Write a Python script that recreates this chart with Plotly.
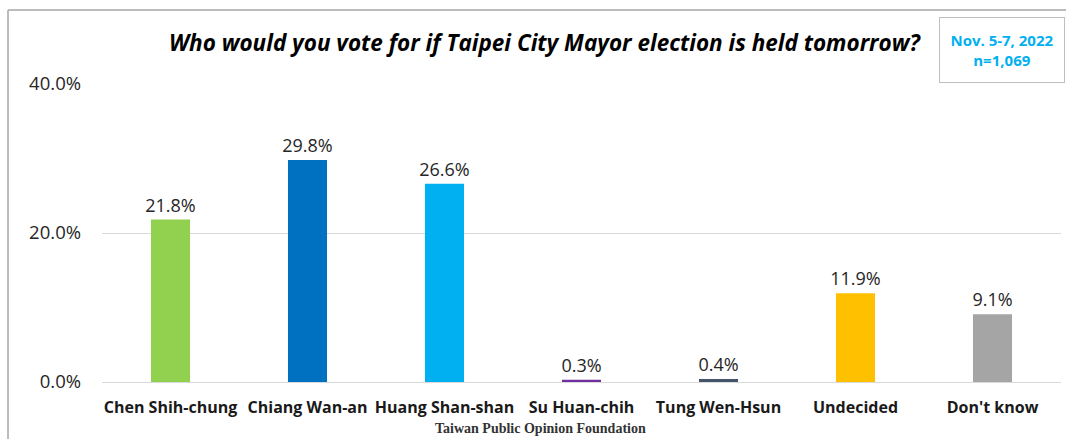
import plotly.graph_objects as go

# Data
candidates = ["Chen Shih-chung", "Chiang Wan-an", "Huang Shan-shan", "Su Huan-chih",
              "Tung Wen-Hsun", "Undecided", "Don't know"]
shares = [21.8, 29.8, 26.6, 0.3, 0.4, 11.9, 9.1]
colors = ["#92D050", "#0070C0", "#00B0F0", "#7030A0", "#44546A", "#FFC000", "#A5A5A5"]
y_ticks = [0, 20, 40]
y_tick_labels = ["0.0%", "20.0%", "40.0%"]

fig = go.Figure(
    data=[go.Bar(
        x=candidates,
        y=shares,
        marker=dict(color=colors, line=dict(width=0)),
        text=[f"{v:.1f}%" for v in shares],
        textposition="outside",
        constraintext="none",
        textfont=dict(size=18, color="#262626", family="Open Sans"),
        cliponaxis=False,
    )]
)

fig.update_layout(
    width=1066,
    height=439,
    margin=dict(l=102, r=5, t=84, b=57),
    plot_bgcolor="white",
    paper_bgcolor="white",
    bargap=0.715,
    showlegend=False,
    xaxis=dict(
        showgrid=False,
        tickfont=dict(size=16, color="#1a1a1a", family="Open Sans"),
        tickvals=candidates,
        ticktext=[f"<b>{c}</b>" for c in candidates],
        ticks="",
        showline=False,
        ticklabelstandoff=14,
    ),
    yaxis=dict(
        range=[0, 40],
        tickvals=y_ticks,
        ticktext=y_tick_labels,
        showgrid=True,
        gridcolor="#D9D9D9",
        gridwidth=1,
        zeroline=True,
        zerolinecolor="#D9D9D9",
        zerolinewidth=1,
        tickfont=dict(size=18.5, color="#262626", family="Open Sans"),
        ticklabelstandoff=20,
    ),
    shapes=[
        # frame lines (top and left)
        dict(type="line", xref="paper", yref="paper", x0=-0.098, x1=1.01, y0=1.248, y1=1.248,
             line=dict(color="#A6A6A6", width=1.5)),
        dict(type="line", xref="paper", yref="paper", x0=-0.098, x1=-0.098, y0=1.248, y1=-0.2,
             line=dict(color="#A6A6A6", width=1.5)),
    ],
    annotations=[
        dict(text="<b><i>Who would you vote for if Taipei City Mayor election is held tomorrow?</i></b>",
             xref="paper", yref="paper", x=0.462, y=1.138, showarrow=False,
             xanchor="center", yanchor="middle",
             font=dict(size=22.5, color="black", family="Open Sans")),
        dict(text="<b>Nov. 5-7, 2022<br>n=1,069</b>",
             xref="paper", yref="paper", x=0.938, y=1.114, showarrow=False,
             xanchor="center", yanchor="middle",
             width=122, height=62, bgcolor="white", bordercolor="#BFBFBF", borderwidth=1,
             font=dict(size=15, color="#00B0F0", family="Open Sans")),
        dict(text="<b>Taiwan Public Opinion Foundation</b>",
             xref="paper", yref="paper", x=0.457, y=-0.155, showarrow=False,
             xanchor="center", yanchor="middle",
             font=dict(size=14, color="#333333", family="Liberation Serif")),
    ],
)

fig.write_html("out.html", config={"displayModeBar": False},
               post_script="document.body.style.margin='0';")
